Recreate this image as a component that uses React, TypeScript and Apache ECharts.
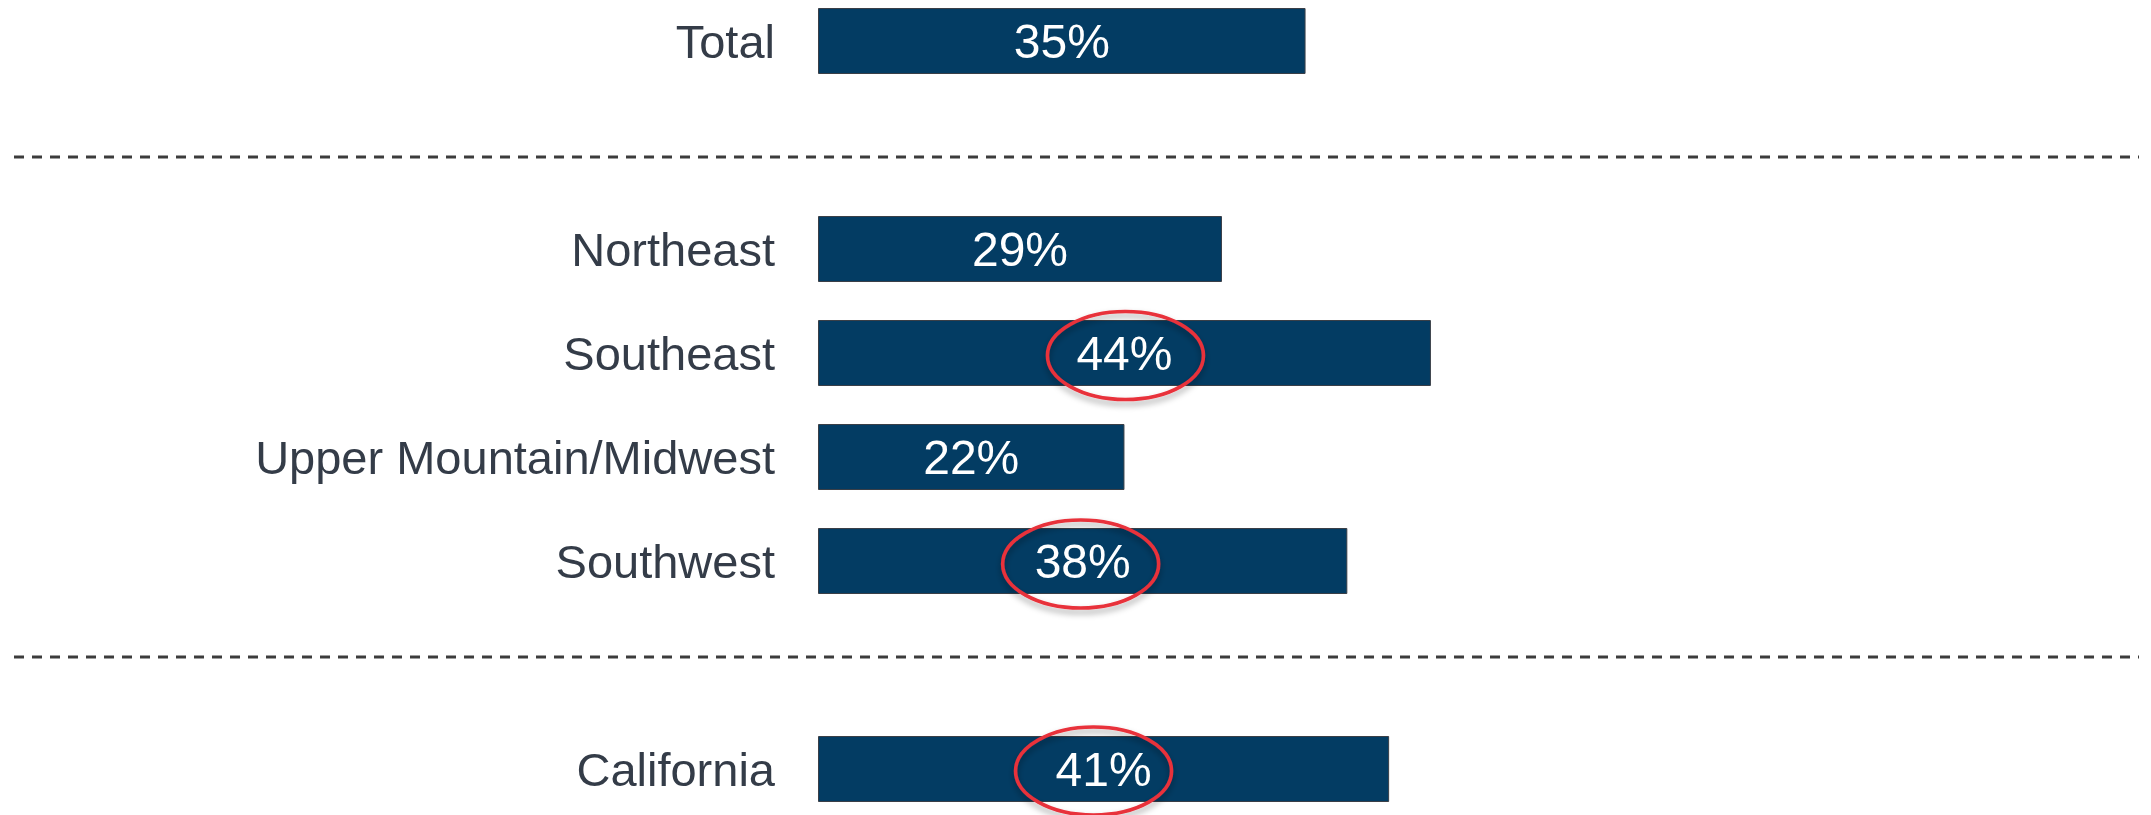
import React, { useEffect, useRef } from "react";
import * as echarts from "echarts";

const categories = ["Total", " ", "Northeast", "Southeast", "Upper Mountain/Midwest", "Southwest", "  ", "California"];
const values: (number | null)[] = [35, null, 29, 44, 22, 38, null, 41];
// highlighted (circled) categories, with small offsets of the hand-drawn ellipses
const circled = [
  { category: "Southeast", dx: 1, dy: 2.5 },
  { category: "Southwest", dx: -2, dy: 3 },
  { category: "California", dx: -10, dy: 2 },
];
// page y positions of the dashed separators
const separatorY = [156.5, 656.5];

const FONT = "'Liberation Sans', Arial, sans-serif";
const OFFSET_Y = -11.5; // chart div starts above the page top

export default function App() {
  const ref = useRef<HTMLDivElement>(null);
  useEffect(() => {
    if (!ref.current) return;
    const chart = echarts.init(ref.current, undefined, { renderer: "svg" });
    chart.setOption({
      animation: false,
      grid: { left: 818, width: 1393, top: 0, height: 832 },
      xAxis: { type: "value", min: 0, max: 100, show: false },
      yAxis: {
        type: "category",
        inverse: true,
        data: categories,
        axisLine: { show: false },
        axisTick: { show: false },
        splitLine: { show: false },
        axisLabel: {
          margin: 43,
          fontSize: 47,
          color: "#343C48",
          fontFamily: FONT,
        },
      },
      series: [
        {
          type: "bar",
          data: values,
          barWidth: 66,
          itemStyle: { color: "#033C63", borderColor: "#3A3F47", borderWidth: 1 },
          label: {
            show: true,
            position: "inside",
            formatter: "{c}%",
            color: "#FFFFFF",
            fontSize: 48,
            fontFamily: FONT,
          },
        },
      ],
    });

    const graphics: any[] = separatorY.map((y, i) => ({
      type: "line",
      id: "sep" + i,
      shape: { x1: 14, y1: y - OFFSET_Y, x2: 2139, y2: y - OFFSET_Y },
      style: { stroke: "#3C3C3C", lineWidth: 2.8, lineDash: [10, 8] },
      z: 10,
    }));
    circled.forEach((c, i) => {
      const idx = categories.indexOf(c.category);
      const v = values[idx] as number;
      const p = chart.convertToPixel({ seriesIndex: 0 }, [v / 2, idx]) as number[];
      graphics.push({
        type: "ellipse",
        id: "ell" + i,
        shape: { cx: p[0] + c.dx, cy: p[1] + c.dy, rx: 78, ry: 44 },
        style: {
          fill: "none",
          stroke: "#E8303A",
          lineWidth: 3.6,
          shadowBlur: 6,
          shadowColor: "rgba(0,0,0,0.35)",
          shadowOffsetY: 4,
        },
        z: 20,
      });
    });
    chart.setOption({ graphic: graphics });

    return () => chart.dispose();
  }, []);
  return (
    <div
      ref={ref}
      style={{ position: "fixed", left: 0, top: OFFSET_Y, width: 2211, height: 832 }}
    />
  );
}
